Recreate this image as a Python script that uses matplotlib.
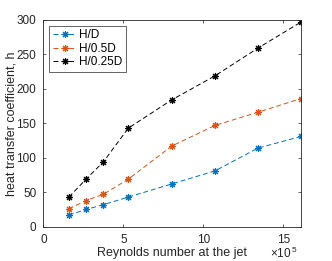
import numpy as np
import matplotlib
matplotlib.use("Agg")
import matplotlib.pyplot as plt

plt.rcParams["font.family"] = ["Liberation Sans", "DejaVu Sans"]
plt.rcParams["mathtext.fontset"] = "custom"
plt.rcParams["mathtext.rm"] = "Liberation Sans"
plt.rcParams["mathtext.it"] = "Liberation Sans"

# Reynolds number (x 1e5) and heat transfer coefficients
re_jet = [1.6, 2.67, 3.75, 5.31, 8.02, 10.73, 13.4, 16.1]
h_d = [17, 25, 32, 43, 62, 81, 114, 131]
h_05d = [26, 38, 47, 69, 117, 147, 166, 186]
h_025d = [43, 69, 94, 143, 184, 219, 259, 297]
labels = ["H/D", "H/0.5D", "H/0.25D"]
colors = ["#0072BD", "#D95319", "#000000"]

fig = plt.figure(figsize=(3.32, 2.61), dpi=100)
ax = fig.add_axes([0.1305, 0.1314, 0.776, 0.792])

x = np.array(re_jet)
for y, lab, c in zip([h_d, h_05d, h_025d], labels, colors):
    ax.plot(x, y, ls=(0, (5, 3)), color=c, lw=0.7, marker=(8, 2, 0), ms=5,
            mew=0.8, label=lab)

ax.set_xlim(0, 16.1)
ax.set_ylim(0, 300)
ax.set_xticks([0, 5, 10, 15])
ax.set_yticks([0, 50, 100, 150, 200, 250, 300])
ax.tick_params(direction="in", top=True, right=True, labelsize=8.5,
               length=2.5, width=0.5, colors="#262626", pad=5)
for s in ax.spines.values():
    s.set_linewidth(0.6)
    s.set_color("#262626")
ax.set_xlabel("Reynolds number at the jet", fontsize=9, color="#262626", labelpad=1)
ax.set_ylabel("heat transfer coefficient, h", fontsize=9, color="#262626", labelpad=-1)
ax.text(0.985, -0.09, r"$\times10^{\,5}$", transform=ax.transAxes, ha="right",
        va="top", fontsize=8.5, color="#262626")

leg = ax.legend(loc="upper left", fontsize=8.5, handlelength=2.0,
                borderpad=0.3, labelspacing=0.12, handletextpad=0.2,
                fancybox=False, framealpha=1, borderaxespad=0.5)
leg.get_frame().set_edgecolor("#262626")
leg.get_frame().set_linewidth(0.5)

fig.savefig("out.png", dpi=100)
